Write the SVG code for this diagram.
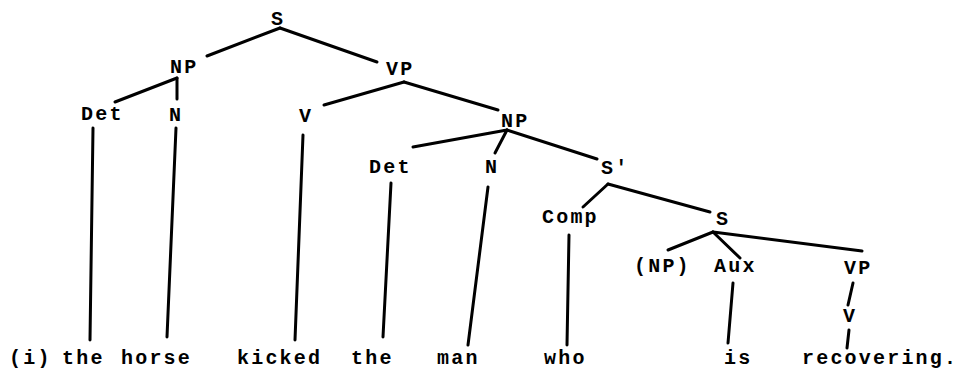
<svg xmlns="http://www.w3.org/2000/svg" width="959" height="379" viewBox="0 0 959 379">
  <style>
    .lbl { font-family: "Liberation Mono", "DejaVu Sans Mono", monospace; font-size: 20px; font-weight: bold; letter-spacing: 2.2px; fill: #000; }
    .edge { stroke: #000; stroke-width: 3; stroke-linecap: round; fill: none; }
  </style>
  <rect width="959" height="379" fill="#fff"/>

  <!-- tree branches -->
  <g id="connectors">
    <line class="edge" x1="280" y1="28" x2="207" y2="56"/>
    <line class="edge" x1="280" y1="28" x2="377" y2="62"/>
    <line class="edge" x1="177" y1="78" x2="115" y2="102"/>
    <line class="edge" x1="177" y1="78" x2="177" y2="99"/>
    <line class="edge" x1="93" y1="128" x2="90" y2="340"/>
    <line class="edge" x1="176" y1="128" x2="167" y2="337"/>
    <line class="edge" x1="404" y1="82" x2="324" y2="105"/>
    <line class="edge" x1="404" y1="82" x2="498" y2="110"/>
    <line class="edge" x1="303" y1="135" x2="295" y2="340"/>
    <line class="edge" x1="507" y1="130" x2="413" y2="147"/>
    <line class="edge" x1="507" y1="130" x2="495" y2="153"/>
    <line class="edge" x1="507" y1="130" x2="597" y2="159"/>
    <line class="edge" x1="391" y1="183" x2="383" y2="337"/>
    <line class="edge" x1="488" y1="187" x2="468" y2="345"/>
    <line class="edge" x1="608" y1="184" x2="583" y2="207"/>
    <line class="edge" x1="608" y1="184" x2="710" y2="212"/>
    <line class="edge" x1="569" y1="235" x2="567" y2="345"/>
    <line class="edge" x1="713" y1="232" x2="668" y2="250"/>
    <line class="edge" x1="713" y1="232" x2="740" y2="258"/>
    <line class="edge" x1="713" y1="232" x2="862" y2="251"/>
    <line class="edge" x1="733" y1="283" x2="728" y2="343"/>
    <line class="edge" x1="853" y1="283" x2="848" y2="305"/>
    <line class="edge" x1="849" y1="330" x2="847" y2="348"/>
  </g>

  <!-- phrase nodes -->
  <g id="s-root"><text class="lbl" x="271" y="25">S</text></g>
  <g id="np-subject"><text class="lbl" x="170" y="73">NP</text></g>
  <g id="vp-main"><text class="lbl" x="386" y="75">VP</text></g>
  <g id="det-1"><text class="lbl" x="81" y="120">Det</text></g>
  <g id="n-1"><text class="lbl" x="169" y="121">N</text></g>
  <g id="v-main"><text class="lbl" x="299" y="122">V</text></g>
  <g id="np-object"><text class="lbl" x="501" y="127">NP</text></g>
  <g id="det-2"><text class="lbl" x="369" y="173">Det</text></g>
  <g id="n-2"><text class="lbl" x="485" y="173">N</text></g>
  <g id="s-bar"><text class="lbl" x="601" y="174">S′</text></g>
  <g id="comp"><text class="lbl" x="542" y="223">Comp</text></g>
  <g id="s-embedded"><text class="lbl" x="716" y="225">S</text></g>
  <g id="np-gap"><text class="lbl" x="634" y="272">(NP)</text></g>
  <g id="aux"><text class="lbl" x="714" y="272">Aux</text></g>
  <g id="vp-embedded"><text class="lbl" x="844" y="274">VP</text></g>
  <g id="v-embedded"><text class="lbl" x="843" y="322">V</text></g>

  <!-- terminal words -->
  <g id="example-no"><text class="lbl" x="9" y="364">(i)</text></g>
  <g id="w-the-1"><text class="lbl" x="62" y="364">the</text></g>
  <g id="w-horse"><text class="lbl" x="121" y="364">horse</text></g>
  <g id="w-kicked"><text class="lbl" x="237" y="364">kicked</text></g>
  <g id="w-the-2"><text class="lbl" x="351" y="364">the</text></g>
  <g id="w-man"><text class="lbl" x="437" y="364">man</text></g>
  <g id="w-who"><text class="lbl" x="544" y="364">who</text></g>
  <g id="w-is"><text class="lbl" x="724" y="364">is</text></g>
  <g id="w-recovering"><text class="lbl" x="802" y="364">recovering.</text></g>
</svg>
